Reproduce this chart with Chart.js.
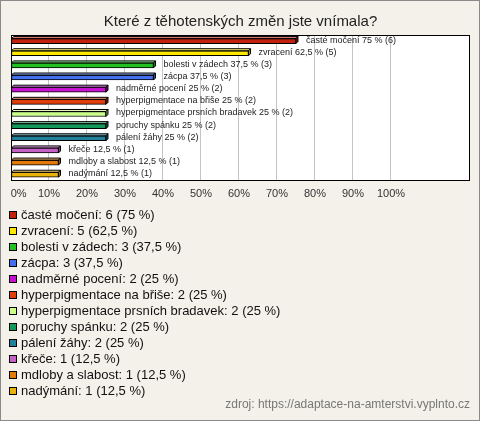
<!DOCTYPE html>
<html>
<head>
<meta charset="utf-8">
<script src="https://cdn.jsdelivr.net/npm/chart.js@4/dist/chart.umd.min.js"></script>
<style>
  body { margin: 0; background: #f3f1e9; font-family: "Liberation Sans", Arial, sans-serif; }
  #wrap { position: relative; width: 480px; height: 421px; overflow: hidden; }
  #frame { position: absolute; left: 0; top: 0; width: 480px; height: 421px; box-sizing: border-box; border: 1px solid #8a8a8a; pointer-events: none; }
  #chart { position: absolute; left: 0; top: 0; }
  #legend { position: absolute; left: 9px; top: 207px; font-size: 13px; color: #111; }
  #legend div { height: 16px; line-height: 16px; white-space: nowrap; }
  #legend span { display: inline-block; width: 6px; height: 6px; border: 1px solid #000; margin-right: 4px; vertical-align: 0px; }
  #source { position: absolute; right: 10px; top: 397px; font-size: 12px; color: #777; }
</style>
</head>
<body>
<div id="wrap">
  <canvas id="chart" width="480" height="214"></canvas>
  <div id="legend"></div>
  <div id="source">zdroj: https://adaptace-na-amterstvi.vyplnto.cz</div>
  <div id="frame"></div>
</div>
<script>
// data
var categories = [
  "časté močení", "zvracení", "bolesti v zádech", "zácpa", "nadměrné pocení",
  "hyperpigmentace na břiše", "hyperpigmentace prsních bradavek", "poruchy spánku",
  "pálení žáhy", "křeče", "mdloby a slabost", "nadýmání"
];
var counts = [6, 5, 3, 3, 2, 2, 2, 2, 2, 1, 1, 1];
var percents = [75, 62.5, 37.5, 37.5, 25, 25, 25, 25, 25, 12.5, 12.5, 12.5];
var colors = [
  "#c2210e", "#ffe800", "#22c022", "#4470f0", "#c412d0", "#e23e0a",
  "#caff8a", "#129858", "#22809a", "#c462c8", "#e27a0a", "#e8b20a"
];

function fmt(v) { return String(v).replace(".", ","); }

function shade(hex, f) {
  var n = parseInt(hex.slice(1), 16);
  var r = (n >> 16) & 255, g = (n >> 8) & 255, b = n & 255;
  var m = function (c) { return Math.max(0, Math.min(255, Math.round(f > 0 ? c + (255 - c) * f : c * (1 + f)))); };
  return "rgb(" + m(r) + "," + m(g) + "," + m(b) + ")";
}

// legend as html
var legend = document.getElementById("legend");
categories.forEach(function (c, i) {
  var row = document.createElement("div");
  var sq = document.createElement("span");
  sq.style.background = colors[i];
  row.appendChild(sq);
  row.appendChild(document.createTextNode(c + ": " + counts[i] + " (" + fmt(percents[i]) + " %)"));
  legend.appendChild(row);
});

var plotFrame = {
  id: "plotFrame",
  beforeDraw: function (chart) {
    var a = chart.chartArea, ctx = chart.ctx;
    ctx.save();
    ctx.fillStyle = "#ffffff";
    ctx.fillRect(a.left, a.top, a.right - a.left, a.bottom - a.top);
    ctx.restore();
  },
  afterDatasetsDraw: function (chart) {
    var a = chart.chartArea, ctx = chart.ctx;
    var meta = chart.getDatasetMeta(0);
    var d = 2;
    ctx.save();
    meta.data.forEach(function (bar, i) {
      var top = bar.y - bar.height / 2, bottom = bar.y + bar.height / 2;
      ctx.lineWidth = 1;
      ctx.strokeStyle = "#000";
      // top face
      ctx.beginPath();
      ctx.moveTo(bar.base, top);
      ctx.lineTo(bar.base + d, top - d);
      ctx.lineTo(bar.x + d, top - d);
      ctx.lineTo(bar.x, top);
      ctx.closePath();
      ctx.fillStyle = shade(colors[i], 0.45);
      ctx.fill();
      ctx.stroke();
      // side face
      ctx.beginPath();
      ctx.moveTo(bar.x, top);
      ctx.lineTo(bar.x + d, top - d);
      ctx.lineTo(bar.x + d, bottom - d);
      ctx.lineTo(bar.x, bottom);
      ctx.closePath();
      ctx.fillStyle = shade(colors[i], -0.35);
      ctx.fill();
      ctx.stroke();
      // value label
      ctx.fillStyle = "#222";
      ctx.font = "9px 'Liberation Sans', Arial, sans-serif";
      ctx.textBaseline = "middle";
      ctx.fillText(categories[i] + " " + fmt(percents[i]) + " % (" + counts[i] + ")", bar.x + 10, bar.y - 1);
    });
    ctx.strokeStyle = "#000";
    ctx.lineWidth = 1;
    ctx.strokeRect(Math.round(a.left) + 0.5, Math.round(a.top) + 0.5, Math.round(a.right - a.left) - 1, Math.round(a.bottom - a.top) - 1);
    ctx.restore();
  }
};

Chart.defaults.font.family = "'Liberation Sans', Arial, sans-serif";
Chart.defaults.color = "#333";

new Chart(document.getElementById("chart"), {
  type: "bar",
  data: {
    labels: categories,
    datasets: [{
      data: percents,
      backgroundColor: colors,
      borderColor: "#000",
      borderWidth: 1,
      borderSkipped: false,
      barThickness: 5
    }]
  },
  options: {
    indexAxis: "y",
    responsive: false,
    animation: false,
    layout: { padding: { left: 11, right: 10, top: 0, bottom: 6 } },
    plugins: {
      legend: { display: false },
      tooltip: { enabled: false },
      title: {
        display: true,
        text: "Které z těhotenských změn jste vnímala?",
        color: "#222",
        font: { size: 15, weight: "normal" },
        padding: { top: 13, bottom: 4 }
      }
    },
    scales: {
      x: {
        min: 0,
        max: 120.8,
        afterBuildTicks: function (axis) {
          axis.ticks = axis.ticks.filter(function (t) { return t.value <= 100; });
        },
        afterFit: function (axis) {
          axis.paddingLeft = 0;
          axis.paddingRight = 0;
        },
        ticks: {
          stepSize: 10,
          padding: 7,
          color: "#333",
          font: { size: 11 },
          callback: function (v) { return v === 0 ? "\u2007\u2007 0%" : v + "%"; }
        },
        grid: { color: "#c4c4c4", drawTicks: false },
        border: { display: false }
      },
      y: {
        display: false,
        grid: { display: false }
      }
    }
  },
  plugins: [plotFrame]
});
</script>
</body>
</html>
